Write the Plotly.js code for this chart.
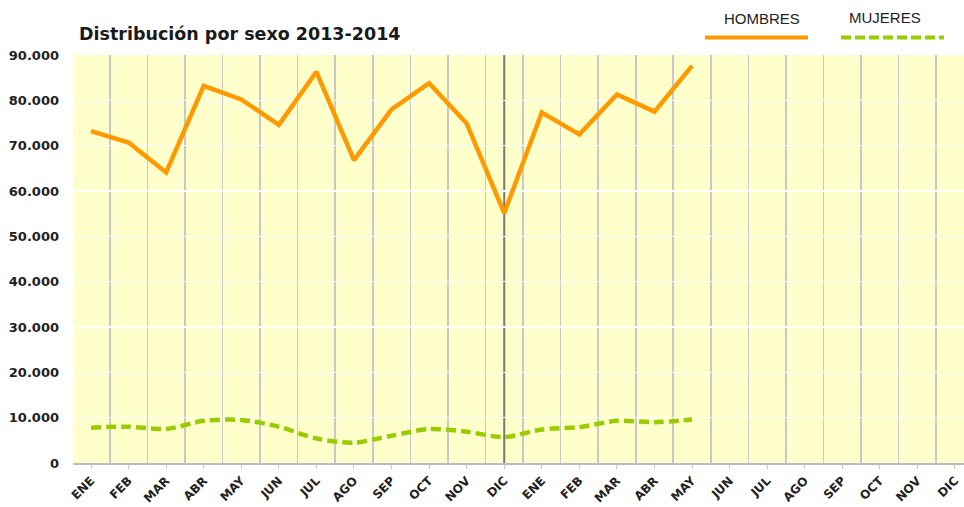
<!DOCTYPE html>
<html>
<head>
<meta charset="utf-8">
<script src="https://cdn.plot.ly/plotly-3.0.1.min.js"></script>
<style>html,body{margin:0;padding:0;background:#fff;}#chart{width:964px;height:507px;}</style>
</head>
<body>
<div id="chart"></div>
<script>
const months = ["ENE","FEB","MAR","ABR","MAY","JUN","JUL","AGO","SEP","OCT","NOV","DIC",
                "ENE","FEB","MAR","ABR","MAY","JUN","JUL","AGO","SEP","OCT","NOV","DIC"];
const hombres = [73200, 70700, 64100, 83200, 80200, 74600, 86300, 66800, 78000, 83800, 74900, 55100,
                 77300, 72500, 81300, 77500, 87600];
const mujeres = [7800, 8000, 7500, 9300, 9500, 8000, 5400, 4500, 6000, 7500, 6900, 5700,
                 7400, 7900, 9300, 9000, 9600];
const yTicks = [0,10000,20000,30000,40000,50000,60000,70000,80000,90000];
const yearBreak = 11;

const idx = months.map((_, i) => i);

const traces = [
  {x: idx.slice(0, hombres.length), y: hombres, name: "HOMBRES", type: "scatter", mode: "lines",
   line: {color: "#ff9900", width: 4.5}, hoverinfo: "skip"},
  {x: idx.slice(0, mujeres.length), y: mujeres, name: "MUJERES", type: "scatter", mode: "lines",
   line: {color: "#99cc00", width: 4.5, dash: "10px,5px", shape: "spline", smoothing: 0.8}, hoverinfo: "skip"}
];

const PL = 73, PR = 964, PT = 55, PB = 463;
const px = v => (v - PL) / (PR - PL);
const py = v => (PB - v) / (PB - PT);

const layout = {
  width: 964, height: 507,
  margin: {l: PL, r: 964 - PR, t: PT, b: 507 - PB, pad: 0},
  paper_bgcolor: "#ffffff",
  plot_bgcolor: "#ffffcc",
  showlegend: false,
  separators: ",.",
  font: {family: "DejaVu Sans, Verdana, sans-serif", color: "#222"},
  title: {text: "Distribución por sexo 2013-2014", x: 79/964, xanchor: "left", xref: "container",
          y: 1 - 34/507, yanchor: "middle", yref: "container",
          font: {family: "DejaVu Sans, sans-serif", size: 17.5, weight: "bold", color: "#1a1a1a"}},
  xaxis: {
    range: [-0.48, 23.24], tickmode: "array", tickvals: idx, ticktext: months,
    tickangle: -45, tickfont: {size: 12, weight: "bold", color: "#222"},
    showgrid: false, zeroline: false,
    ticks: "outside", ticklen: 4, tickcolor: "#c8c8c8", tickwidth: 1,
    showline: true, linecolor: "#bdbdbd", linewidth: 2,
    minor: {tickmode: "linear", tick0: 0.5, dtick: 1, showgrid: true, gridcolor: "#c8c8c8", gridwidth: 1.6, ticks: ""},
    fixedrange: true
  },
  yaxis: {
    range: [0, 90000], tickmode: "array", tickvals: yTicks, tickformat: ",d",
    tickfont: {size: 13, weight: "bold", color: "#222"},
    showgrid: true, gridcolor: "#ffffff", gridwidth: 1.5, zeroline: false,
    ticks: "", ticklabelstandoff: 13, showline: false, fixedrange: true
  },
  shapes: [
    {type: "line", xref: "x", yref: "y", x0: yearBreak, x1: yearBreak, y0: 0, y1: 90000,
     line: {color: "#777777", width: 2}, layer: "below"},
    {type: "line", xref: "paper", yref: "paper", x0: px(705), x1: px(808), y0: py(37.5), y1: py(37.5),
     line: {color: "#ff9900", width: 4}},
    {type: "line", xref: "paper", yref: "paper", x0: px(841), x1: px(944), y0: py(37.5), y1: py(37.5),
     line: {color: "#99cc00", width: 4, dash: "10px,4px"}}
  ],
  annotations: [
    {text: "HOMBRES", xref: "paper", yref: "paper", x: px(762), y: py(18.5), xanchor: "center", yanchor: "middle",
     showarrow: false, font: {family: "Liberation Sans, Arial, sans-serif", size: 15, color: "#222"}},
    {text: "MUJERES", xref: "paper", yref: "paper", x: px(885), y: py(17.5), xanchor: "center", yanchor: "middle",
     showarrow: false, font: {family: "Liberation Sans, Arial, sans-serif", size: 15, color: "#222"}}
  ]
};

Plotly.newPlot("chart", traces, layout, {displayModeBar: false, staticPlot: true});
</script>
</body>
</html>
